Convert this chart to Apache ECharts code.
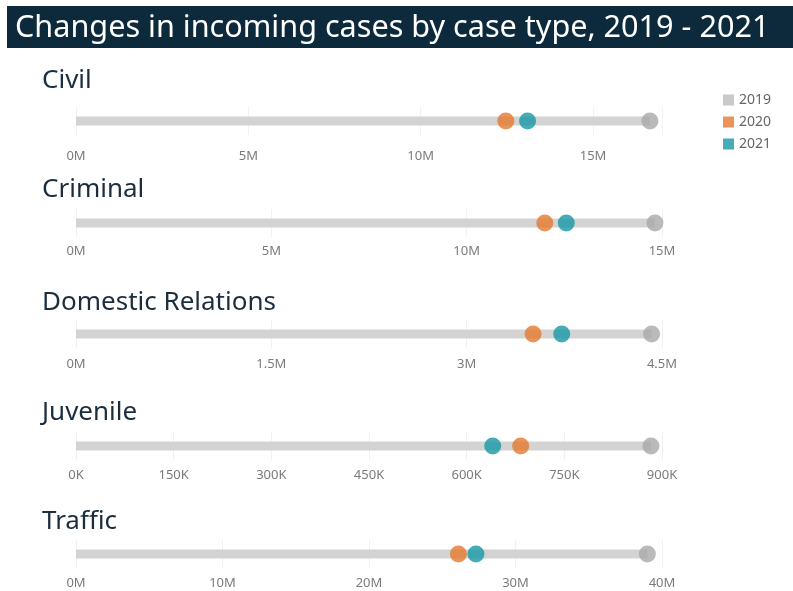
<!DOCTYPE html>
<html>
<head>
<meta charset="utf-8">
<script src="https://cdn.jsdelivr.net/npm/echarts@6/dist/echarts.min.js"></script>
<style>
  html, body { margin: 0; padding: 0; background: #ffffff; }
  #container { width: 793px; height: 591px; }
</style>
</head>
<body>
<div id="container"></div>
<script>
// case types, one panel each
var caseTypes = ['Civil', 'Criminal', 'Domestic Relations', 'Juvenile', 'Traffic'];
var years = ['2019', '2020', '2021'];
var cases2019 = [16650000, 14820000, 4420000, 883000, 39000000];
var cases2020 = [12470000, 12000000, 3510000, 683000, 26100000];
var cases2021 = [13100000, 12550000, 3730000, 640000, 27300000];
// axis ranges and tick steps as shown on each panel
var axisMax = [17000000, 15000000, 4500000, 900000, 40000000];
var axisStep = [5000000, 5000000, 1500000, 150000, 10000000];
var axisUnit = ['M', 'M', 'M', 'K', 'M'];

function graficoCasos() {
    var dom = document.getElementById('container');
    var myChart = echarts.init(dom);
    var option;

    var barY = [121, 223, 334, 446, 554];
    var labelGap = [15, 8, 10, 9, 9];
    var titleY = [68, 177, 290, 400, 509];
    var colors = { bar: '#d3d3d3', y2019: '#a9a9a9', y2020: '#e5792e', y2021: '#1797a6' };

    var grids = [], xAxes = [], yAxes = [], series = [], graphics = [];

    graphics.push({
        type: 'rect', left: 7, top: 6,
        shape: { width: 786, height: 42 },
        style: { fill: '#0d2a3d' }
    });
    graphics.push({
        type: 'text', left: 15, top: 13,
        style: {
            text: 'Changes in incoming cases by case type, 2019 - 2021',
            fill: '#ffffff', font: '30.6px "Noto Sans"'
        }
    });

    caseTypes.forEach(function (name, i) {
        graphics.push({
            type: 'text', left: 42, top: titleY[i],
            style: { text: name, fill: '#1c2e3e', font: '26px "Noto Sans"' }
        });
        grids.push({ left: 76, right: 131, top: barY[i] - 14, height: 28 });
        var div = axisUnit[i] === 'K' ? 1000 : 1000000;
        xAxes.push({
            type: 'value', gridIndex: i, min: 0, max: axisMax[i], interval: axisStep[i],
            axisLine: { show: false }, axisTick: { show: false },
            splitLine: { lineStyle: { color: '#f1f1f1' } },
            axisLabel: {
                color: '#7b7b7b', fontSize: 13, fontFamily: 'Noto Sans',
                margin: labelGap[i], showMaxLabel: axisMax[i] % axisStep[i] === 0,
                formatter: function (v) { return (v / div) + axisUnit[i]; }
            }
        });
        yAxes.push({
            type: 'category', gridIndex: i, data: [name], show: false
        });
        series.push({
            name: '2019', type: 'bar', xAxisIndex: i, yAxisIndex: i,
            data: [cases2019[i]], barWidth: 9, silent: true,
            itemStyle: { color: colors.bar }
        });
        series.push({
            name: '2019', type: 'scatter', xAxisIndex: i, yAxisIndex: i,
            data: [[cases2019[i], name]], symbolSize: 17,
            itemStyle: { color: colors.y2019 }
        });
        series.push({
            name: '2020', type: 'scatter', xAxisIndex: i, yAxisIndex: i,
            data: [[cases2020[i], name]], symbolSize: 17,
            itemStyle: { color: colors.y2020 }
        });
        series.push({
            name: '2021', type: 'scatter', xAxisIndex: i, yAxisIndex: i,
            data: [[cases2021[i], name]], symbolSize: 17,
            itemStyle: { color: colors.y2021 }
        });
    });

    option = {
        backgroundColor: '#ffffff',
        animation: false,
        legend: {
            orient: 'vertical', left: 718, top: 88,
            itemWidth: 11, itemHeight: 11, itemGap: 8,
            icon: 'rect',
            textStyle: { color: '#666666', fontSize: 14, fontFamily: 'Noto Sans' },
            data: [
                { name: years[0], itemStyle: { color: '#c9c9c9' } },
                { name: years[1], itemStyle: { color: colors.y2020 } },
                { name: years[2], itemStyle: { color: colors.y2021 } }
            ]
        },
        grid: grids,
        xAxis: xAxes,
        yAxis: yAxes,
        series: series,
        graphic: graphics
    };

    if (option && typeof option === 'object') {
        myChart.setOption(option);
    }
}
graficoCasos();
</script>
</body>
</html>
